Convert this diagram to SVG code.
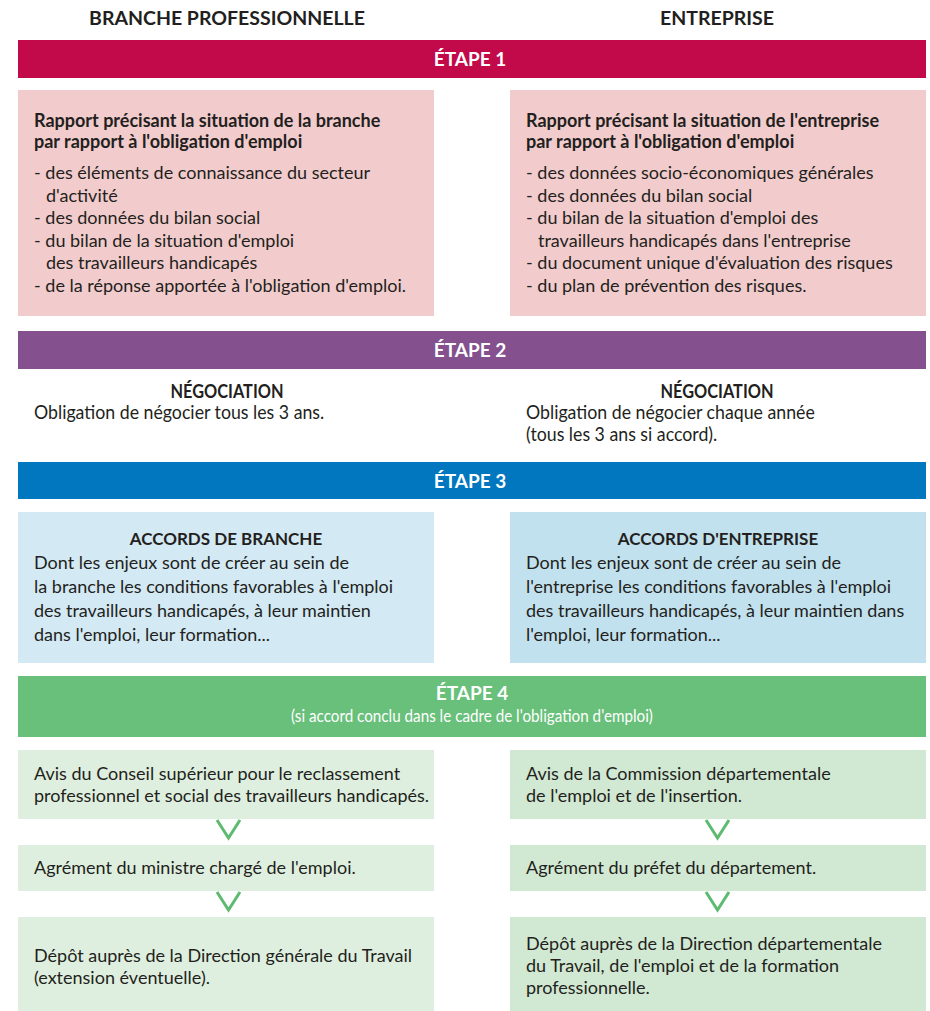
<svg xmlns="http://www.w3.org/2000/svg" width="930" height="1011" viewBox="0 0 930 1011">
<style>
.t{font-family:Lato,"Liberation Sans",sans-serif;font-size:18px;fill:#231f20}
.b{font-weight:bold}
.h{font-family:Lato,"Liberation Sans",sans-serif;font-weight:bold;font-size:19.5px;fill:#231f20;text-anchor:middle}
.n{font-family:Lato,"Liberation Sans",sans-serif;font-weight:bold;font-size:17.5px;fill:#231f20;text-anchor:middle}
.w{font-family:Lato,"Liberation Sans",sans-serif;font-weight:bold;font-size:19px;fill:#ffffff;text-anchor:middle}
.ws{font-family:Lato,"Liberation Sans",sans-serif;font-size:17.5px;fill:#ffffff;text-anchor:middle}
.cn{font-family:Lato,"Liberation Sans",sans-serif;font-size:19.5px;fill:#231f20}
.chev{fill:none;stroke:#5cbb6e;stroke-width:3}
</style>
<rect width="930" height="1011" fill="#ffffff"/>
<g id="col-branche"><text class="h" x="227" y="25">BRANCHE PROFESSIONNELLE</text></g>
<g id="col-entreprise"><text class="h" x="717" y="25">ENTREPRISE</text></g>

<g id="etape1"><rect x="18" y="40" width="908" height="38" fill="#c2094a"/><text class="w" x="470" y="65.5">ÉTAPE 1</text></g>
<g id="rapport-branche"><rect x="18" y="90" width="416" height="226" fill="#f2cccc"/>
<text class="t b" x="34" y="127">Rapport précisant la situation de la branche</text>
<text class="t b" x="34" y="148">par rapport à l'obligation d'emploi</text>
<text class="t" x="34" y="179">- des éléments de connaissance du secteur</text>
<text class="t" x="46" y="201.5">d'activité</text>
<text class="t" x="34" y="224">- des données du bilan social</text>
<text class="t" x="34" y="246.5">- du bilan de la situation d'emploi</text>
<text class="t" x="46" y="269">des travailleurs handicapés</text>
<text class="t" x="34" y="291.5">- de la réponse apportée à l'obligation d'emploi.</text>
</g>
<g id="rapport-entreprise"><rect x="510" y="90" width="416" height="226" fill="#f2cccc"/>
<text class="t b" x="526" y="127">Rapport précisant la situation de l'entreprise</text>
<text class="t b" x="526" y="148">par rapport à l'obligation d'emploi</text>
<text class="t" x="526" y="179">- des données socio-économiques générales</text>
<text class="t" x="526" y="201.5">- des données du bilan social</text>
<text class="t" x="526" y="224">- du bilan de la situation d'emploi des</text>
<text class="t" x="538" y="246.5">travailleurs handicapés dans l'entreprise</text>
<text class="t" x="526" y="269">- du document unique d'évaluation des risques</text>
<text class="t" x="526" y="291.5">- du plan de prévention des risques.</text>
</g>

<g id="etape2"><rect x="18" y="331" width="908" height="38" fill="#84508e"/><text class="w" x="470" y="356.5">ÉTAPE 2</text></g>
<g id="negociation-branche">
<text class="n" transform="translate(227,398) scale(0.86,1)" style="font-size:19px">NÉGOCIATION</text>
<text class="cn" transform="translate(34,419) scale(0.91,1)">Obligation de négocier tous les 3 ans.</text>
</g>
<g id="negociation-entreprise">
<text class="n" transform="translate(717,398) scale(0.86,1)" style="font-size:19px">NÉGOCIATION</text>
<text class="cn" transform="translate(526,419) scale(0.91,1)">Obligation de négocier chaque année</text>
<text class="cn" transform="translate(526,441) scale(0.91,1)">(tous les 3 ans si accord).</text>
</g>

<g id="etape3"><rect x="18" y="462" width="908" height="37" fill="#0077bf"/><text class="w" x="470" y="487.5">ÉTAPE 3</text></g>
<g id="accords-branche"><rect x="18" y="512" width="416" height="151" fill="#d3e9f4"/>
<text class="n" x="226" y="545" style="font-size:17px">ACCORDS DE BRANCHE</text>
<text class="t" x="34" y="569">Dont les enjeux sont de créer au sein de</text>
<text class="t" x="34" y="593">la branche les conditions favorables à l'emploi</text>
<text class="t" x="34" y="617">des travailleurs handicapés, à leur maintien</text>
<text class="t" x="34" y="641">dans l'emploi, leur formation...</text>
</g>
<g id="accords-entreprise"><rect x="510" y="512" width="416" height="151" fill="#c2e1ee"/>
<text class="n" x="718" y="545" style="font-size:17px">ACCORDS D'ENTREPRISE</text>
<text class="t" x="526" y="569">Dont les enjeux sont de créer au sein de</text>
<text class="t" x="526" y="593">l'entreprise les conditions favorables à l'emploi</text>
<text class="t" x="526" y="617">des travailleurs handicapés, à leur maintien dans</text>
<text class="t" x="526" y="641">l'emploi, leur formation...</text>
</g>

<g id="etape4"><rect x="18" y="676" width="908" height="61" fill="#68c07a"/>
<text class="w" x="472" y="699.5">ÉTAPE 4</text>
<text class="ws" transform="translate(472,722) scale(0.87,1)">(si accord conclu dans le cadre de l'obligation d'emploi)</text>
</g>
<g id="avis-branche"><rect x="18" y="750" width="416" height="69" fill="#dfefdf"/>
<text class="t" x="34" y="780">Avis du Conseil supérieur pour le reclassement</text>
<text class="t" x="34" y="802">professionnel et social des travailleurs handicapés.</text>
</g>
<g id="agrement-branche"><rect x="18" y="845" width="416" height="46" fill="#dfefdf"/>
<text class="t" x="34" y="874">Agrément du ministre chargé de l'emploi.</text>
</g>
<g id="depot-branche"><rect x="18" y="917" width="416" height="94" fill="#dfefdf"/>
<text class="t" x="34" y="962">Dépôt auprès de la Direction générale du Travail</text>
<text class="t" x="34" y="984">(extension éventuelle).</text>
</g>
<g id="avis-entreprise"><rect x="510" y="750" width="416" height="69" fill="#d1e8d2"/>
<text class="t" x="526" y="780">Avis de la Commission départementale</text>
<text class="t" x="526" y="802">de l'emploi et de l'insertion.</text>
</g>
<g id="agrement-entreprise"><rect x="510" y="845" width="416" height="46" fill="#d1e8d2"/>
<text class="t" x="526" y="874">Agrément du préfet du département.</text>
</g>
<g id="depot-entreprise"><rect x="510" y="917" width="416" height="94" fill="#d1e8d2"/>
<text class="t" x="526" y="950">Dépôt auprès de la Direction départementale</text>
<text class="t" x="526" y="972">du Travail, de l'emploi et de la formation</text>
<text class="t" x="526" y="994">professionnelle.</text>
</g>

<g id="connectors">
<polyline class="chev" points="217,820 228.5,838 240,820"/>
<polyline class="chev" points="217,892 228.5,910 240,892"/>
<polyline class="chev" points="706,820 717.5,838 729,820"/>
<polyline class="chev" points="706,892 717.5,910 729,892"/>
</g>
</svg>
